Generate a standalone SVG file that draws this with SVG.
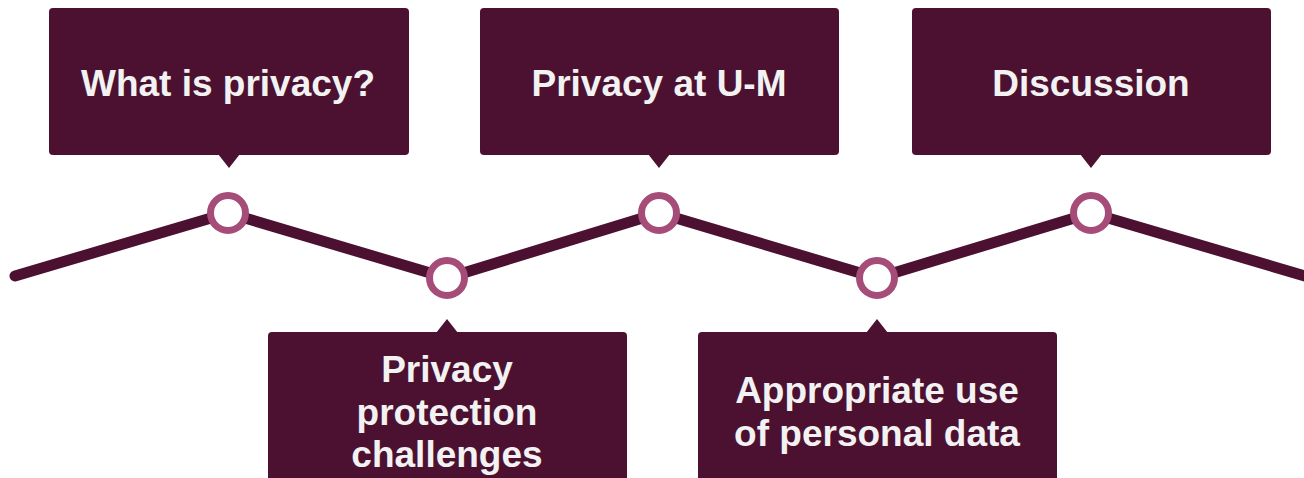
<svg xmlns="http://www.w3.org/2000/svg" width="1304" height="478" viewBox="0 0 1304 478">
<style>
.box{fill:#4c1131;}
.lbl{font-family:"Liberation Sans",Arial,sans-serif;font-weight:bold;font-size:37px;fill:#f2f2f2;text-anchor:middle;}
.ring{fill:#ffffff;stroke:#a54c78;stroke-width:7;}
.track{fill:none;stroke:#4c1131;stroke-width:11;stroke-linecap:round;stroke-linejoin:round;}
</style>
<rect width="1304" height="478" fill="#ffffff"/>
<g id="connectors">
<polyline class="track" points="15,276 228,213 447,278 659,213 877,278 1091,213 1312,278"/>
</g>
<g id="node-what-is-privacy">
<rect class="box" x="49" y="8" width="360" height="147" rx="4"/>
<polygon class="box" points="218,154 240,154 229,168"/>
<text class="lbl" x="228" y="96">What is privacy?</text>
</g>
<g id="node-privacy-at-um">
<rect class="box" x="480" y="8" width="359" height="147" rx="4"/>
<polygon class="box" points="648,154 670,154 659,168"/>
<text class="lbl" x="659" y="96">Privacy at U-M</text>
</g>
<g id="node-discussion">
<rect class="box" x="912" y="8" width="359" height="147" rx="4"/>
<polygon class="box" points="1080,154 1102,154 1091,168"/>
<text class="lbl" x="1091" y="96">Discussion</text>
</g>
<g id="node-protection-challenges">
<rect class="box" x="268" y="332" width="359" height="160" rx="4"/>
<polygon class="box" points="436,333 458,333 447,319"/>
<text class="lbl" x="447" y="382">Privacy</text>
<text class="lbl" x="447" y="425">protection</text>
<text class="lbl" x="447" y="467">challenges</text>
</g>
<g id="node-appropriate-use">
<rect class="box" x="698" y="332" width="359" height="160" rx="4"/>
<polygon class="box" points="866,333 888,333 877,319"/>
<text class="lbl" x="877" y="403">Appropriate use</text>
<text class="lbl" x="877" y="446">of personal data</text>
</g>
<g id="milestones">
<circle class="ring" cx="228" cy="213" r="17.5"/>
<circle class="ring" cx="447" cy="278" r="17.5"/>
<circle class="ring" cx="659" cy="213" r="17.5"/>
<circle class="ring" cx="877" cy="278" r="17.5"/>
<circle class="ring" cx="1091" cy="213" r="17.5"/>
</g>
</svg>
